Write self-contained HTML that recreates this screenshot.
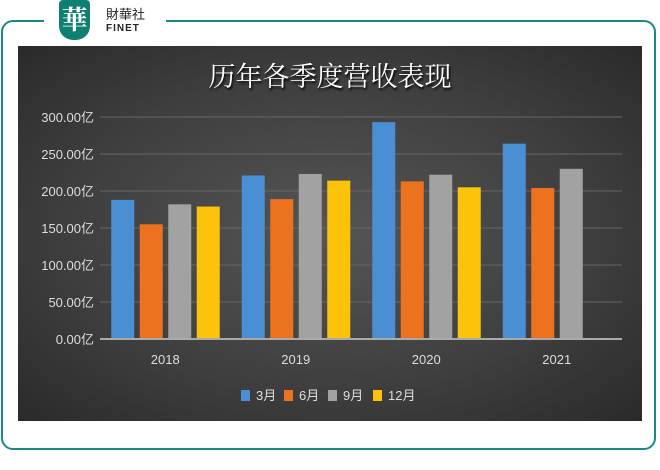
<!DOCTYPE html>
<html><head><meta charset="utf-8"><style>
body{margin:0;width:660px;height:470px;background:#fff;overflow:hidden;position:relative;font-family:"Liberation Sans","Noto Sans CJK SC",sans-serif}
#frame{position:absolute;left:1px;top:20px;width:655px;height:430px;border:2px solid #1a8a80;border-radius:12px;box-sizing:border-box}
#panel{position:absolute;left:18px;top:46px;width:624px;height:375px;background:radial-gradient(ellipse at 50% 50%,#555 0%,#3e3e3e 60%,#2a2a2a 100%)}
</style></head><body>
<div id="frame"></div>
<div style="position:absolute;left:44px;top:0;width:60px;height:42px;background:#fff"></div>
<div style="position:absolute;left:59px;top:0;width:31px;height:40px;background:#0f7f72;border-radius:4px 4px 14px 14px;color:#fff;font:bold 26px 'Noto Serif CJK SC',serif;text-align:center;line-height:38px">華</div>
<div style="position:absolute;left:96px;top:8px;width:70px;height:28px;background:#fff"></div>
<div style="position:absolute;left:106px;top:7px;font:13px 'Noto Sans CJK TC',sans-serif;color:#222;line-height:14px">財華社</div>
<div style="position:absolute;left:106px;top:23px;font:bold 10px 'Liberation Sans',sans-serif;color:#222;letter-spacing:1px">FINET</div>
<div id="panel"></div>
<svg width="660" height="470" style="position:absolute;left:0;top:0">
<text x="330" y="86" text-anchor="middle" fill="#fff" font-size="27" font-family="'Noto Serif CJK SC',serif" style="text-shadow:1px 2px 2px #000">历年各季度营收表现</text>
<g id="g"></g>
</svg>
<script>
const categories=["2018","2019","2020","2021"];
const seriesNames=["3月","6月","9月","12月"];
const s3=[188,221,293,264];
const s6=[155,189,213,204];
const s9=[182,223,222,230];
const s12=[179,214,205,null];
const ticks=[0,50,100,150,200,250,300];
const tickLabels=["0.00亿","50.00亿","100.00亿","150.00亿","200.00亿","250.00亿","300.00亿"];
const colors=["#4a8fd4","#ec7220","#a2a2a2","#fcc30a"];
const X0=100,X1=622,Y0=339,Y300=117;
const y=v=>Y0-(v/300)*(Y0-Y300);
const cw=(X1-X0)/categories.length;
const g=document.getElementById('g');
const NS="http://www.w3.org/2000/svg";
function mk(t,a){const e=document.createElementNS(NS,t);for(const k in a)e.setAttribute(k,a[k]);g.appendChild(e);return e;}
ticks.forEach((t,i)=>{
 if(t>0){const l=mk('line',{x1:X0,x2:X1,y1:y(t),y2:y(t),stroke:'#666','stroke-width':1});
 
 }
 const tx=mk('text',{x:94,y:y(t)+5,'text-anchor':'end',fill:'#ddd','font-size':13});
 tx.textContent=tickLabels[i];
 
 
});
const all=[s3,s6,s9,s12];
categories.forEach((c,ci)=>{
 const cx=X0+cw*(ci+0.5);
 all.forEach((s,si)=>{
  if(s[ci]==null)return;
  const bx=cx-54+si*28.5;
  const r=mk('rect',{x:bx,y:y(s[ci]),width:23,height:Y0-y(s[ci]),fill:colors[si]});
  
  
 });
 const t=mk('text',{x:cx,y:364,'text-anchor':'middle',fill:'#ddd','font-size':13});
 t.textContent=c;
 
 
});
const ax=mk('line',{x1:X0,x2:X1,y1:Y0,y2:Y0,stroke:'#aaa','stroke-width':2});


const lx=[241,284,328,373];
seriesNames.forEach((n,i)=>{
 const r=mk('rect',{x:lx[i],y:390,width:9,height:11,fill:colors[i]});
 
 
 const t=mk('text',{x:lx[i]+15,y:400,fill:'#ddd','font-size':13});
 t.textContent=n;
 
 
});
</script>
</body></html>
